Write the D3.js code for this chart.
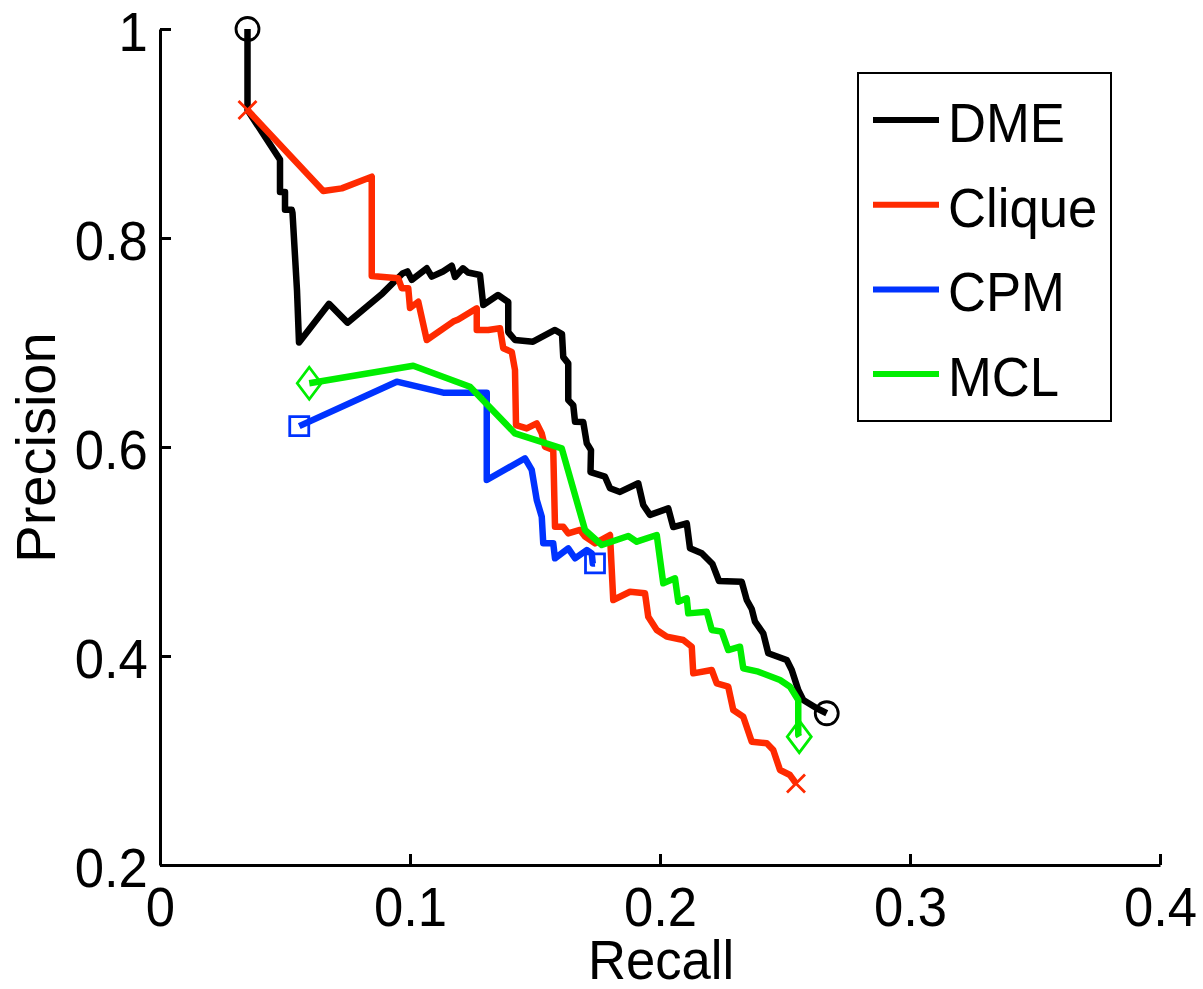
<!DOCTYPE html>
<meta charset="utf-8">
<style>
  body { margin: 0; background: #fff; }
  text { font-family: "Liberation Sans", Arial, Helvetica, sans-serif; fill: #000; }
</style>
<body>
<script src="https://cdn.jsdelivr.net/npm/d3@7/dist/d3.min.js"></script>
<script>

// Recall / precision values
var dmeRecall = [0.035, 0.035, 0.048, 0.048, 0.050, 0.050, 0.0527, 0.053, 0.0548, 0.0556, 0.0676, 0.075, 0.089, 0.097, 0.099, 0.1007,
  0.1067, 0.1087, 0.1132, 0.1167, 0.118, 0.1212, 0.1232, 0.128, 0.1293, 0.1352, 0.1393, 0.1393, 0.142, 0.1492, 0.158, 0.1608,
  0.1613, 0.1633, 0.1633, 0.1653, 0.166, 0.1693, 0.1707, 0.1724, 0.1722, 0.178, 0.18, 0.184, 0.1913, 0.1933, 0.196, 0.2033,
  0.2053, 0.2107, 0.212, 0.2167, 0.221, 0.2236, 0.2327, 0.2347, 0.2367, 0.238, 0.2413, 0.2433, 0.2507, 0.2527, 0.2553, 0.2573,
  0.2627, 0.2667];
var dmePrecision = [1.0, 0.9225, 0.875, 0.844, 0.844, 0.827, 0.827, 0.824, 0.750, 0.700, 0.737, 0.719, 0.747, 0.766, 0.768, 0.760,
  0.771, 0.763, 0.768, 0.7735, 0.7627, 0.771, 0.767, 0.7646, 0.7359, 0.7455, 0.7388, 0.710, 0.7024, 0.7008, 0.712, 0.708,
  0.686, 0.680, 0.645, 0.640, 0.6242, 0.624, 0.6035, 0.597, 0.576, 0.5716, 0.5605, 0.557, 0.5653, 0.5445, 0.535, 0.5413,
  0.5234, 0.527, 0.503, 0.4983, 0.488, 0.4718, 0.471, 0.4536, 0.445, 0.4328, 0.4217, 0.4026, 0.3962, 0.3866, 0.3675, 0.358,
  0.350, 0.3452];

var cliqueRecall = [0.035, 0.0653, 0.0727, 0.0847, 0.0847, 0.0953, 0.0967, 0.0993, 0.100, 0.1033, 0.1067, 0.1173, 0.1193, 0.1267,
  0.1267, 0.1313, 0.136, 0.1373, 0.1407, 0.142, 0.1424, 0.1467, 0.1507, 0.1527, 0.154, 0.1573, 0.158, 0.1613, 0.1633, 0.168,
  0.170, 0.174, 0.180, 0.1813, 0.188, 0.194, 0.1953, 0.1987, 0.2027, 0.2093, 0.2127, 0.2133, 0.2207, 0.2227, 0.2273, 0.2293,
  0.2333, 0.2367, 0.2427, 0.2453, 0.248, 0.252, 0.2544];
var cliquePrecision = [0.9225, 0.845, 0.8475, 0.8587, 0.7636, 0.7614, 0.752, 0.752, 0.733, 0.739, 0.7024, 0.720, 0.722, 0.7327,
  0.712, 0.712, 0.7136, 0.6945, 0.691, 0.6737, 0.621, 0.6178, 0.6226, 0.613, 0.6003, 0.5971, 0.5237, 0.5237, 0.5173, 0.5206,
  0.5142, 0.5078, 0.5158, 0.4536, 0.4615, 0.460, 0.4376, 0.4249, 0.4185, 0.4153, 0.4089, 0.3834, 0.3866, 0.3739, 0.3706, 0.3483,
  0.3419, 0.318, 0.3165, 0.310, 0.2909, 0.2861, 0.278];

var cpmRecall = [0.0557, 0.0947, 0.1133, 0.1307, 0.1307, 0.146, 0.1487, 0.1507, 0.1527, 0.1533, 0.1573, 0.158, 0.1633, 0.166,
  0.1707, 0.1727, 0.1731, 0.174];
var cpmPrecision = [0.620, 0.6625, 0.652, 0.652, 0.5684, 0.5892, 0.578, 0.5493, 0.5333, 0.5078, 0.5078, 0.4935, 0.503, 0.4935,
  0.5014, 0.4982, 0.4885, 0.4886];

var mclRecall = [0.0597, 0.1013, 0.124, 0.142, 0.1607, 0.170, 0.1767, 0.1873, 0.1907, 0.1987, 0.2013, 0.206, 0.2073, 0.2107,
  0.2113, 0.2187, 0.2207, 0.2247, 0.2273, 0.232, 0.2333, 0.2393, 0.248, 0.252, 0.2553, 0.2553, 0.2557];
var mclPrecision = [0.661, 0.6777, 0.6577, 0.613, 0.5987, 0.5206, 0.5062, 0.5148, 0.5094, 0.5158, 0.4696, 0.4743, 0.452, 0.4552,
  0.4408, 0.4424, 0.4249, 0.4233, 0.4057, 0.4089, 0.3882, 0.385, 0.377, 0.3706, 0.3579, 0.3244, 0.3228];

var seriesNames = ["DME", "Clique", "CPM", "MCL"];
var seriesColors = ["#000000", "#ff2a00", "#0033ff", "#00ee00"];
var seriesMarkers = ["circle", "x", "square", "diamond"];

var xTicks = [0, 0.1, 0.2, 0.3, 0.4];
var yTicks = [0.2, 0.4, 0.6, 0.8, 1];

var margin = {top: 29, right: 43, bottom: 124, left: 160},
    width = 1000,
    height = 836;

var svg = d3.select("body").append("svg")
    .attr("width", 1203)
    .attr("height", 989);

var x = d3.scaleLinear().domain([0, 0.4]).range([0, width]),
    y = d3.scaleLinear().domain([0.2, 1]).range([height, 0]);

var g = svg.append("g")
    .attr("transform", "translate(" + margin.left + "," + margin.top + ")");

var series = seriesNames.map(function(name, i) {
  var xs = [dmeRecall, cliqueRecall, cpmRecall, mclRecall][i],
      ys = [dmePrecision, cliquePrecision, cpmPrecision, mclPrecision][i];
  return {
    name: name,
    color: seriesColors[i],
    marker: seriesMarkers[i],
    values: xs.map(function(v, j) { return {x: v, y: ys[j]}; })
  };
});

var line = d3.line()
    .x(function(d) { return x(d.x); })
    .y(function(d) { return y(d.y); });

// marker shapes, drawn in local pixel units
function markerPath(type) {
  if (type === "circle") return "M11.5,0A11.5,11.5 0 1,1 -11.5,0A11.5,11.5 0 1,1 11.5,0Z";
  if (type === "x") return "M-9,-9L9,9M-9,9L9,-9";
  if (type === "square") return "M-9.5,-9.5H9.5V9.5H-9.5Z";
  return "M0,-16L12,0L0,16L-12,0Z";
}

series.forEach(function(s) {
  var sg = g.append("g").attr("class", "series");
  sg.append("path")
      .datum(s.values)
      .attr("d", line)
      .attr("fill", "none")
      .attr("stroke", s.color)
      .attr("stroke-width", 6.5)
      .attr("stroke-linejoin", "round");

  var ends = [s.values[0], s.values[s.values.length - 1]];
  sg.selectAll(".marker")
    .data(ends)
    .enter().append("path")
      .attr("class", "marker")
      .attr("transform", function(d) { return "translate(" + x(d.x) + "," + y(d.y) + ")"; })
      .attr("d", markerPath(s.marker))
      .attr("fill", "none")
      .attr("stroke", s.color)
      .attr("stroke-width", 2.8);
});

// axes (MATLAB style: box off, ticks inside)
var xAxis = d3.axisBottom(x).tickValues(xTicks).tickFormat(d3.format("")).tickSizeInner(-11).tickSizeOuter(0).tickPadding(21);
var yAxis = d3.axisLeft(y).tickValues(yTicks).tickFormat(d3.format("")).tickSizeInner(-11).tickSizeOuter(0).tickPadding(13);

var gx = g.append("g")
    .attr("transform", "translate(0," + height + ")")
    .call(xAxis);
var gy = g.append("g").call(yAxis);

[gx, gy].forEach(function(ax) {
  ax.select(".domain").attr("stroke", "#000").attr("stroke-width", 3);
  ax.selectAll(".tick line").attr("stroke", "#000").attr("stroke-width", 3);
  ax.selectAll(".tick text")
      .attr("fill", "#000")
      .style("font-size", "56px")
      .style("font-family", "'Liberation Sans', Arial, sans-serif")
      .attr("transform", "scale(0.94,1)");
});
gy.selectAll(".tick text").attr("dy", "0.39em");

svg.append("text")
    .attr("transform", "translate(661,979) scale(0.94,1)")
    .attr("text-anchor", "middle")
    .style("font-size", "56px")
    .text("Recall");

svg.append("text")
    .attr("transform", "translate(55,447.5) rotate(-90)")
    .attr("text-anchor", "middle")
    .style("font-size", "56px")
    .text("Precision");

// legend
var legend = svg.append("g");

legend.append("rect")
    .attr("x", 858)
    .attr("y", 73)
    .attr("width", 253)
    .attr("height", 348)
    .attr("fill", "#fff")
    .attr("stroke", "#000")
    .attr("stroke-width", 2);

var items = legend.selectAll(".item")
    .data(series)
    .enter().append("g")
      .attr("class", "item")
      .attr("transform", function(d, i) { return "translate(0," + (120 + i * 84.7) + ")"; });

items.append("line")
    .attr("x1", 873)
    .attr("x2", 939)
    .attr("stroke", function(d) { return d.color; })
    .attr("stroke-width", 6);

items.append("text")
    .attr("transform", "translate(948,22) scale(0.94,1)")
    .style("font-size", "56px")
    .text(function(d) { return d.name; });

</script>
</body>
